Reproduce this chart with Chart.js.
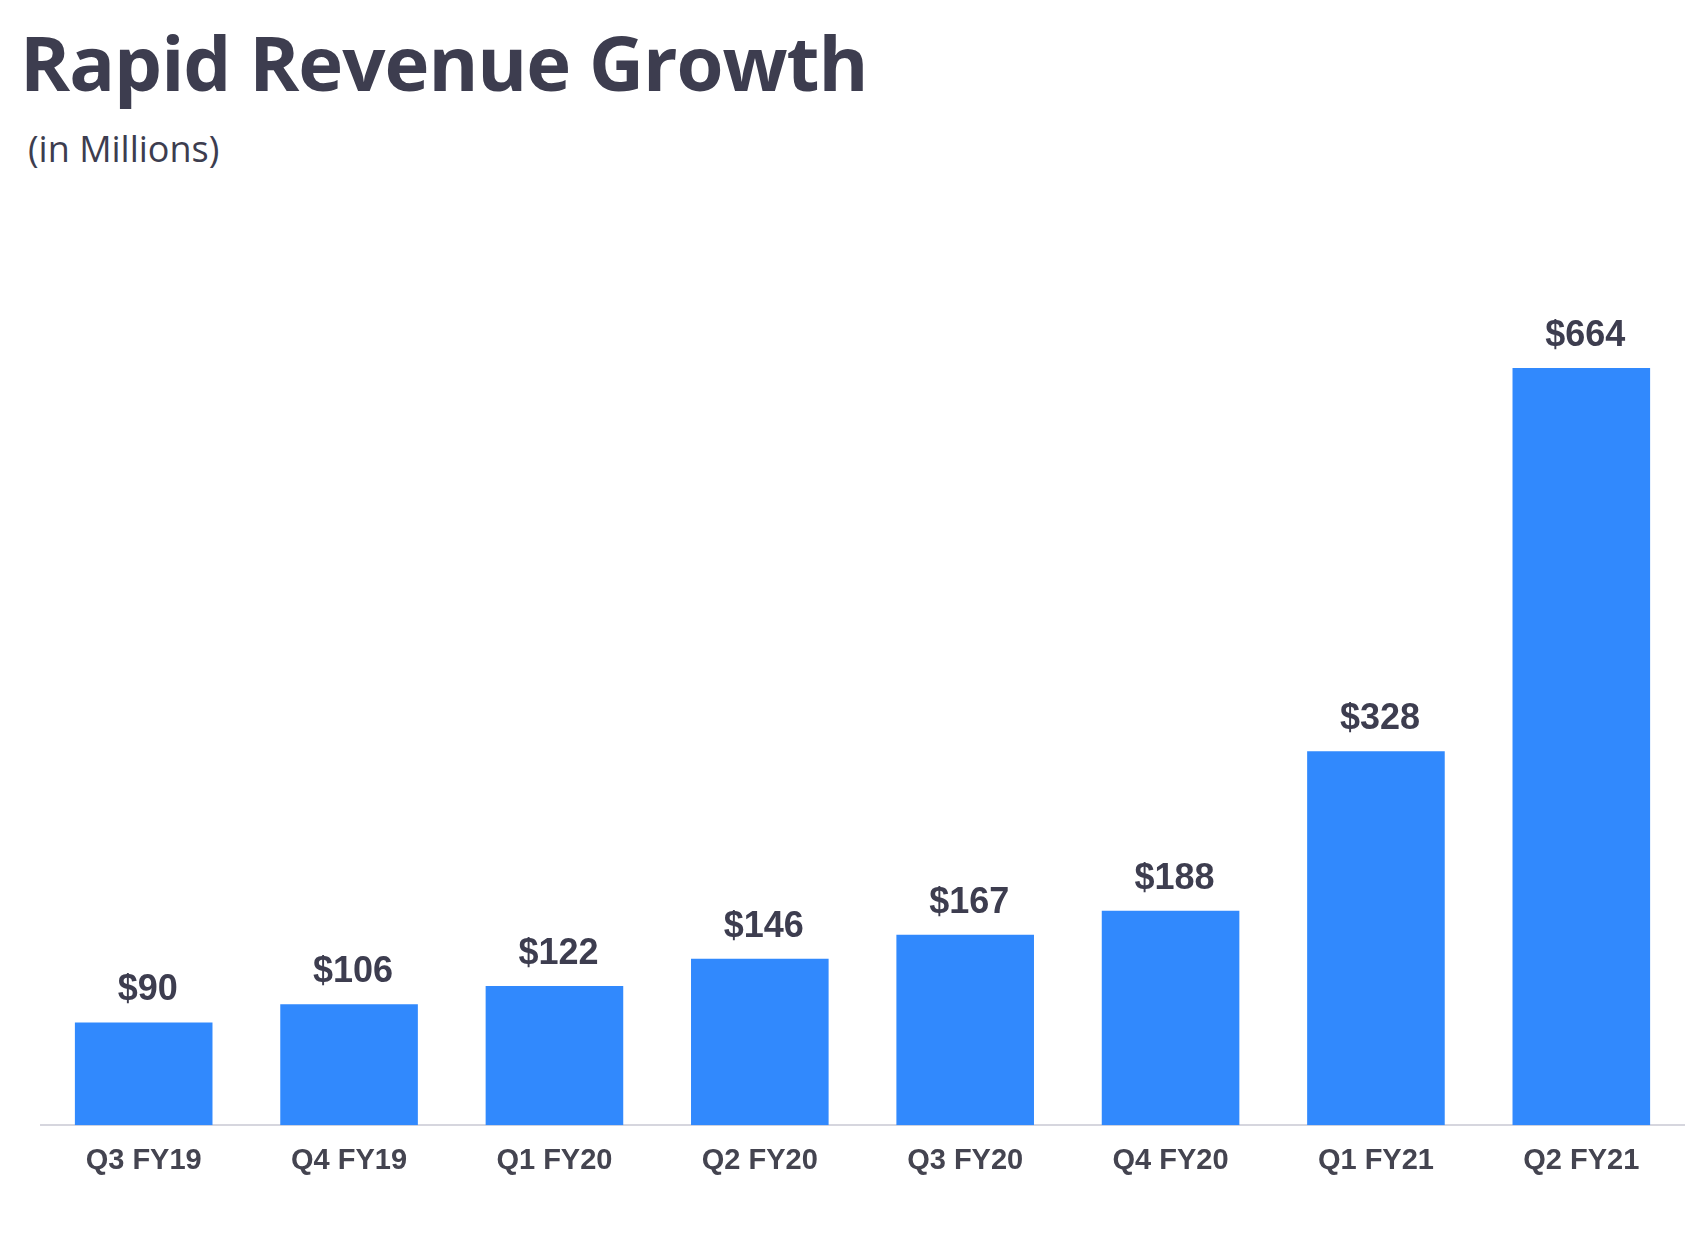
<!DOCTYPE html>
<html>
<head>
<meta charset="utf-8">
<script src="https://cdn.jsdelivr.net/npm/chart.js@4"></script>
<style>
  body { margin: 0; background: #fff; width: 1696px; height: 1246px; position: relative; overflow: hidden; }
  #title { position: absolute; left: 20px; top: 10px; font: 700 76px "Open Sans", sans-serif; color: #3d3d4f; letter-spacing: -1px; }
  #sub { position: absolute; left: 28px; top: 124px; font: 36px "Open Sans", sans-serif; color: #3d3d4f; }
  #wrap { position: absolute; left: 0; top: 0; width: 1696px; height: 1246px; }
</style>
</head>
<body>
<div id="title">Rapid Revenue Growth</div>
<div id="sub">(in Millions)</div>
<div id="wrap"><canvas id="chart"></canvas></div>
<script>
const quarters = ['Q3 FY19', 'Q4 FY19', 'Q1 FY20', 'Q2 FY20', 'Q3 FY20', 'Q4 FY20', 'Q1 FY21', 'Q2 FY21'];
const revenue = [90, 106, 122, 146, 167, 188, 328, 664];

// draws "$value" above each bar
const valueLabels = {
  id: 'valueLabels',
  afterDatasetsDraw(chart) {
    const ctx = chart.ctx;
    ctx.save();
    ctx.font = 'bold 36px "Liberation Sans", Arial, sans-serif';
    ctx.fillStyle = '#3d3d4f';
    ctx.textAlign = 'center';
    ctx.textBaseline = 'bottom';
    chart.getDatasetMeta(0).data.forEach((bar, i) => {
      ctx.fillText('$' + revenue[i], bar.x + 4, bar.y - 14);
    });
    ctx.restore();
  }
};

new Chart(document.getElementById('chart'), {
  type: 'bar',
  data: {
    labels: quarters,
    datasets: [{
      data: revenue,
      backgroundColor: '#3189fd',
      categoryPercentage: 0.67,
      barPercentage: 1
    }]
  },
  options: {
    responsive: true,
    maintainAspectRatio: false,
    animation: false,
    layout: { padding: { top: 327, left: 41, right: 12, bottom: 50 } },
    plugins: { legend: { display: false }, tooltip: { enabled: false } },
    scales: {
      x: {
        grid: { display: false, drawTicks: false },
        border: { color: '#d6d6de', width: 2 },
        ticks: { color: '#444450', padding: 18, font: { family: '"Liberation Sans", Arial, sans-serif', size: 29, weight: 'bold' } }
      },
      y: {
        display: false,
        min: 0,
        max: 700
      }
    }
  },
  plugins: [valueLabels]
});
</script>
</body>
</html>
